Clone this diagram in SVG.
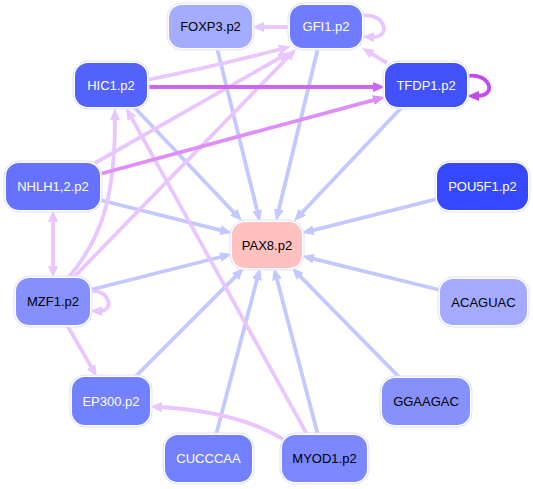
<svg xmlns="http://www.w3.org/2000/svg" width="533" height="489" viewBox="0 0 533 489">
<style>
.e{fill:none;stroke-width:3.8}
.b{stroke:#c3c9ff;marker-end:url(#ab)}
.p{stroke:#e9c6ff;marker-end:url(#ap)}
.halo{fill:#fff;stroke:#dde0ff;stroke-width:1}
text{font-family:"Liberation Sans",Arial,sans-serif;font-size:13px;text-anchor:middle;dominant-baseline:central}
.w{fill:#fff}
.k{fill:#000}
</style>
<defs>
<marker id="ab" markerUnits="userSpaceOnUse" markerWidth="12" markerHeight="10" refX="2" refY="5" orient="auto"><path d="M0,0L12,5L0,10z" fill="#c3c9ff"/></marker>
<marker id="ap" markerUnits="userSpaceOnUse" markerWidth="12" markerHeight="10" refX="2" refY="5" orient="auto-start-reverse"><path d="M0,0L12,5L0,10z" fill="#e9c6ff"/></marker>
<marker id="ad1" markerUnits="userSpaceOnUse" markerWidth="12" markerHeight="10" refX="2" refY="5" orient="auto"><path d="M0,0L12,5L0,10z" fill="#cc66ee"/></marker>
<marker id="ad2" markerUnits="userSpaceOnUse" markerWidth="12" markerHeight="10" refX="2" refY="5" orient="auto"><path d="M0,0L12,5L0,10z" fill="#dd8ef8"/></marker>
<marker id="ad3" markerUnits="userSpaceOnUse" markerWidth="12" markerHeight="10" refX="2" refY="5" orient="auto"><path d="M0,0L12,5L0,10z" fill="#c04cf0"/></marker>
</defs>
<g id="connectors">
<path class="e b" d="M217,48L257.6,212.3"/>
<path class="e b" d="M318,48L278.4,211.3"/>
<path class="e b" d="M402,107L300.9,213.7"/>
<path class="e b" d="M134,107L235.1,213.7"/>
<path class="e b" d="M100,200L222.3,230.6"/>
<path class="e b" d="M90,290L222.3,256.5"/>
<path class="e b" d="M437,199L311.7,230.6"/>
<path class="e b" d="M440,290L311.7,258.4"/>
<path class="e b" d="M135,377L236.9,275.1"/>
<path class="e b" d="M216,435L257.5,277.7"/>
<path class="e b" d="M318,435L276.5,277.7"/>
<path class="e b" d="M400,378L299,275.1"/>
<path class="e p" d="M290,27L262,27"/>
<path class="e p" d="M356,17C384,8 394,38 372,37"/>
<path class="e p" d="M387,63L370.6,53.1"/>
<path class="e p" d="M147,80Q220,65 281,49"/>
<path class="e p" d="M95,163L281.3,57"/>
<path class="e p" d="M73,278L289,56.2"/>
<path class="e p" d="M68,278C105,235 115,190 115,118"/>
<path class="e p" d="M308,436L130.9,116.7"/>
<path class="e p" d="M53,220L53,268" marker-start="url(#ap)"/>
<path class="e p" d="M88,292C108,286 116,311 100,311"/>
<path class="e p" d="M67,325L92,368.3"/>
<path class="e p" d="M284,440Q240,412 160,407"/>
<path class="e" d="M147,87L375,87" stroke="#cc66ee" stroke-width="3.2" marker-end="url(#ad1)"/>
<path class="e" d="M100,174L375.3,99.6" stroke="#dd8ef8" stroke-width="3.2" marker-end="url(#ad2)"/>
<path class="e" d="M467,76C490,72 498,96 477,96" stroke="#c04cf0" stroke-width="3.2" marker-end="url(#ad3)"/>
</g>
<g id="FOXP3"><rect class="halo" x="167" y="3" width="87" height="47" rx="15"/><rect x="169" y="5" width="83" height="43" rx="13" fill="#a3acff"/><text class="k" x="210.5" y="26.5">FOXP3.p2</text></g>
<g id="GFI1"><rect class="halo" x="288" y="3" width="76" height="47" rx="15"/><rect x="290" y="5" width="72" height="43" rx="13" fill="#6f7cff"/><text class="w" x="326" y="26.5">GFI1.p2</text></g>
<g id="HIC1"><rect class="halo" x="73" y="61" width="76" height="48" rx="15"/><rect x="75" y="63" width="72" height="44" rx="13" fill="#5262fa"/><text class="w" x="111" y="85">HIC1.p2</text></g>
<g id="TFDP1"><rect class="halo" x="383" y="61" width="86" height="48" rx="15"/><rect x="385" y="63" width="82" height="44" rx="13" fill="#4252fb"/><text class="w" x="426" y="85">TFDP1.p2</text></g>
<g id="NHLH12"><rect class="halo" x="4" y="161" width="98" height="51" rx="15"/><rect x="6" y="163" width="94" height="47" rx="13" fill="#6672fe"/><text class="w" x="53" y="186.5">NHLH1,2.p2</text></g>
<g id="POU5F1"><rect class="halo" x="435" y="161" width="95" height="51" rx="15"/><rect x="437" y="163" width="91" height="47" rx="13" fill="#3548fd"/><text class="w" x="482.5" y="186.5">POU5F1.p2</text></g>
<g id="PAX8"><rect class="halo" x="230" y="220" width="74" height="50" rx="15" stroke="#ffe4e4"/><rect x="232" y="222" width="70" height="46" rx="13" fill="#ffc0c0"/><text class="k" x="267" y="245">PAX8.p2</text></g>
<g id="MZF1"><rect class="halo" x="14" y="276" width="78" height="51" rx="15"/><rect x="16" y="278" width="74" height="47" rx="13" fill="#8590fe"/><text class="k" x="53" y="301.5">MZF1.p2</text></g>
<g id="ACAGUAC"><rect class="halo" x="438" y="277" width="91" height="50" rx="15"/><rect x="440" y="279" width="87" height="46" rx="13" fill="#a4abff"/><text class="k" x="483.5" y="302">ACAGUAC</text></g>
<g id="EP300"><rect class="halo" x="70" y="375" width="82" height="52" rx="15"/><rect x="72" y="377" width="78" height="48" rx="13" fill="#7281fd"/><text class="w" x="111" y="401">EP300.p2</text></g>
<g id="GGAAGAC"><rect class="halo" x="380" y="376" width="92" height="51" rx="15"/><rect x="382" y="378" width="88" height="47" rx="13" fill="#8791fc"/><text class="k" x="426" y="401.5">GGAAGAC</text></g>
<g id="CUCCCAA"><rect class="halo" x="163" y="433" width="91" height="51" rx="15"/><rect x="165" y="435" width="87" height="47" rx="13" fill="#7380fd"/><text class="w" x="208.5" y="458.5">CUCCCAA</text></g>
<g id="MYOD1"><rect class="halo" x="280" y="433" width="89" height="51" rx="15"/><rect x="282" y="435" width="85" height="47" rx="13" fill="#7c87fd"/><text class="k" x="324.5" y="458.5">MYOD1.p2</text></g>
</svg>
